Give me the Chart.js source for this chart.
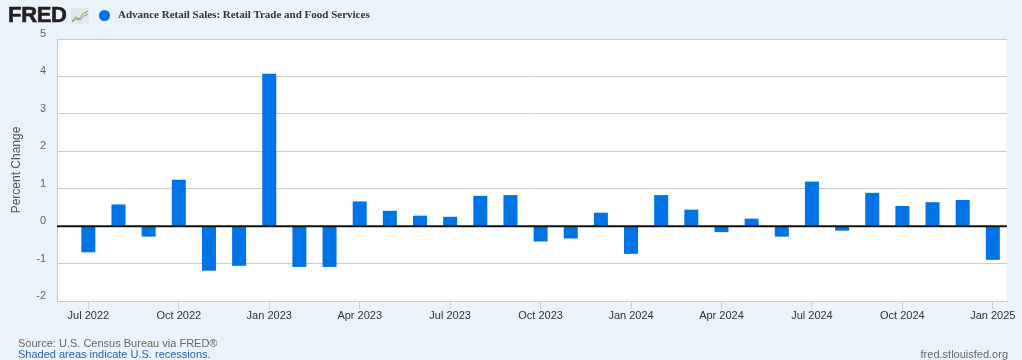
<!DOCTYPE html>
<html>
<head>
<meta charset="utf-8">
<script src="https://cdn.jsdelivr.net/npm/chart.js@4"></script>
<style>
  html, body { margin: 0; padding: 0; }
  body { width: 1022px; height: 360px; background: #eaf2fa; position: relative; overflow: hidden; font-family: "Liberation Sans", Arial, sans-serif; }
  #chart { position: absolute; left: 0; top: 0; }
  .logo { position: absolute; left: 8px; top: 2px; font: bold 22px "Liberation Sans", Arial, sans-serif; color: #231f20; letter-spacing: -0.3px; -webkit-text-stroke: 0.6px #231f20; }
  .icon { position: absolute; left: 71px; top: 8px; }
  .dot { position: absolute; left: 99px; top: 10px; width: 11px; height: 11px; border-radius: 50%; background: #0073e6; }
  .series { position: absolute; left: 118px; top: 8px; font: bold 11px "Liberation Serif", "Times New Roman", serif; color: #333; }
  .src { position: absolute; left: 18px; top: 337px; font-size: 11px; color: #666; }
  .rec { position: absolute; left: 18px; top: 348px; font-size: 11px; color: #2a62ad; }
  .site { position: absolute; right: 14px; top: 348px; font-size: 11px; color: #666; }
</style>
</head>
<body>
<canvas id="chart" width="1022" height="360"></canvas>
<div class="logo">FRED</div>
<svg class="icon" width="18" height="16" viewBox="0 0 18 16">
  <rect x="0" y="0" width="18" height="16" fill="#e3e8ee"/>
  <polyline points="1,13 5,9 8,11 12,6 17,3" fill="none" stroke="#8cbf5a" stroke-width="1.2"/>
  <polyline points="1,14 5,11 9,12 13,8 17,6" fill="none" stroke="#6b9bd1" stroke-width="1"/>
</svg>
<div class="dot"></div>
<div class="series">Advance Retail Sales: Retail Trade and Food Services</div>
<div class="src">Source: U.S. Census Bureau via FRED®</div>
<div class="rec">Shaded areas indicate U.S. recessions.</div>
<div class="site">fred.stlouisfed.org</div>
<script>
const months = [
  'Jul 2022', 'Aug 2022', 'Sep 2022', 'Oct 2022', 'Nov 2022', 'Dec 2022',
  'Jan 2023', 'Feb 2023', 'Mar 2023', 'Apr 2023', 'May 2023', 'Jun 2023',
  'Jul 2023', 'Aug 2023', 'Sep 2023', 'Oct 2023', 'Nov 2023', 'Dec 2023',
  'Jan 2024', 'Feb 2024', 'Mar 2024', 'Apr 2024', 'May 2024', 'Jun 2024',
  'Jul 2024', 'Aug 2024', 'Sep 2024', 'Oct 2024', 'Nov 2024', 'Dec 2024',
  'Jan 2025'
];
const pctChange = [
  -0.70, 0.58, -0.28, 1.24, -1.19, -1.06,
  4.07, -1.09, -1.09, 0.66, 0.41, 0.28,
  0.25, 0.81, 0.83, -0.41, -0.33, 0.36,
  -0.74, 0.83, 0.44, -0.16, 0.20, -0.28,
  1.19, -0.12, 0.89, 0.54, 0.64, 0.70,
  -0.90
];
const xTickLabels = ['Jul 2022', 'Oct 2022', 'Jan 2023', 'Apr 2023', 'Jul 2023', 'Oct 2023',
  'Jan 2024', 'Apr 2024', 'Jul 2024', 'Oct 2024', 'Jan 2025'];
const yTicks = [-2, -1, 0, 1, 2, 3, 4, 5];

// white plot area
const plotBg = {
  id: 'plotBg',
  beforeDraw(chart) {
    const { ctx, chartArea: a } = chart;
    ctx.save();
    ctx.fillStyle = '#fff';
    ctx.fillRect(a.left, a.top, a.right - a.left, a.bottom - a.top);
    ctx.restore();
  }
};

// black zero line on top of the bars
const zeroLine = {
  id: 'zeroLine',
  afterDatasetsDraw(chart) {
    const { ctx, chartArea: a, scales: { y } } = chart;
    const py = y.getPixelForValue(0);
    ctx.save();
    ctx.strokeStyle = '#111';
    ctx.lineWidth = 2;
    ctx.beginPath();
    ctx.moveTo(a.left, py);
    ctx.lineTo(a.right, py);
    ctx.stroke();
    ctx.restore();
  }
};

new Chart(document.getElementById('chart'), {
  type: 'bar',
  data: {
    datasets: [{
      label: 'Advance Retail Sales: Retail Trade and Food Services',
      data: months.map((m, i) => ({ x: i, y: pctChange[i] })),
      backgroundColor: '#0073e6',
      categoryPercentage: 1,
      barPercentage: 0.465
    }]
  },
  options: {
    responsive: false,
    animation: false,
    layout: { padding: { top: 39, right: 15, left: 0, bottom: 0 } },
    plugins: { legend: { display: false }, tooltip: { enabled: false } },
    scales: {
      x: {
        type: 'linear',
        min: -1.04,
        max: 30.47,
        offset: false,
        afterFit: s => { s.height = 59; },
        afterBuildTicks: s => { s.ticks = xTickLabels.map(l => ({ value: months.indexOf(l) })); },
        grid: { offset: false, drawOnChartArea: false, drawTicks: true, tickLength: 8, color: '#c9d3e0' },
        border: { display: true, color: '#cccccc' },
        ticks: {
          callback: v => months[v],
          color: '#333',
          font: { family: '"Liberation Sans", Arial, sans-serif', size: 11 },
          maxRotation: 0,
          autoSkip: false,
          padding: 0
        }
      },
      y: {
        min: -2,
        max: 5,
        afterFit: s => { s.width = 57; },
        afterBuildTicks: s => { s.ticks = yTicks.map(v => ({ value: v })); },
        grid: { color: '#cccccc', lineWidth: 1, drawTicks: false },
        border: { display: true, color: '#c8c8c8' },
        ticks: {
          padding: 11,
          labelOffset: -5,
          color: '#666',
          font: { family: '"Liberation Sans", Arial, sans-serif', size: 11 }
        },
        title: {
          display: true,
          text: 'Percent Change',
          color: '#555',
          font: { family: '"Liberation Sans", Arial, sans-serif', size: 12 },
          padding: { top: 9, bottom: 0 }
        }
      }
    }
  },
  plugins: [plotBg, zeroLine]
});
</script>
</body>
</html>
